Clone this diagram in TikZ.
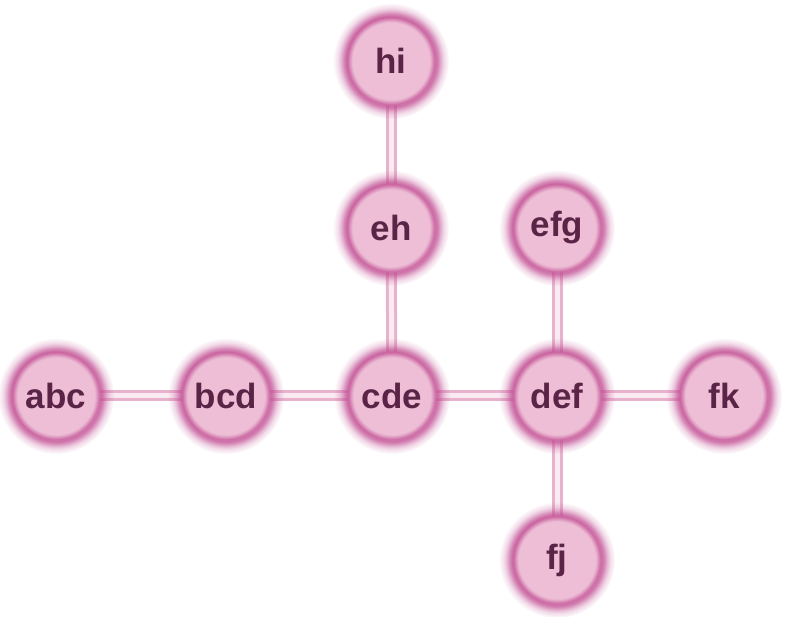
\documentclass[tikz,border=0pt]{standalone}
\usepackage{fontspec}
\setmainfont{Liberation Sans}
\usetikzlibrary{fadings}
\definecolor{nodefill}{HTML}{EDBED6}
\definecolor{glowc}{HTML}{C24F94}
\definecolor{txtc}{HTML}{5A2446}
\definecolor{edgec}{HTML}{E8B2CD}
\definecolor{edgein}{HTML}{FAEAF2}
% opacity profile of the halo ring (white = opaque, black = clear)
\pgfdeclareradialshading{halogray}{\pgfpoint{0bp}{0bp}}{%
  color(0bp)=(black); color(16.6bp)=(black);
  color(17.6bp)=(white!35!black); color(18.6bp)=(white!72!black);
  color(19.3bp)=(white!82!black); color(20.3bp)=(white!68!black);
  color(21.5bp)=(white!42!black); color(22.8bp)=(white!20!black);
  color(25bp)=(black); color(50bp)=(black)}
\pgfdeclarefading{halofade}{\pgfuseshading{halogray}}
\tikzset{
  x=1pt, y=-1pt,
  vertex/.style={circle, minimum size=72pt, inner sep=0pt,
    text=txtc, font=\fontsize{35}{35}\selectfont\bfseries},
  link/.style={draw=edgec, line width=3pt, double=edgein, double distance=5pt}
}
% a pale disc with a soft translucent rim
\newcommand{\halonode}[3]{%
  \fill[nodefill] (#2) circle[radius=44.5];
  \fill[glowc, path fading=halofade] (#2) circle[radius=58];
  \node[vertex] (#1) at (#2) {#3};}
\begin{document}
\begin{tikzpicture}
\useasboundingbox (0,0) rectangle (788,617);
\fill[white] (0,0) rectangle (788,617);
% node positions
\coordinate (phi) at (391,61);
\coordinate (peh) at (391,228);
\coordinate (pefg) at (557,228);
\coordinate (pabc) at (56,396);
\coordinate (pbcd) at (226,396);
\coordinate (pcde) at (392,396);
\coordinate (pdef) at (557,396);
\coordinate (pfk) at (724,396);
\coordinate (pfj) at (557,560);
% connectors underneath
\draw[link] (phi) -- (peh);
\draw[link] (peh) -- (pcde);
\draw[link] (pefg) -- (pdef);
\draw[link] (pabc) -- (pbcd);
\draw[link] (pbcd) -- (pcde);
\draw[link] (pcde) -- (pdef);
\draw[link] (pdef) -- (pfk);
\draw[link] (pdef) -- (pfj);
% circles
\halonode{hi}{phi}{hi}
\halonode{eh}{peh}{eh}
\halonode{efg}{pefg}{efg}
\halonode{abc}{pabc}{abc}
\halonode{bcd}{pbcd}{bcd}
\halonode{cde}{pcde}{cde}
\halonode{def}{pdef}{def}
\halonode{fk}{pfk}{fk}
\halonode{fj}{pfj}{fj}
\end{tikzpicture}
\end{document}
